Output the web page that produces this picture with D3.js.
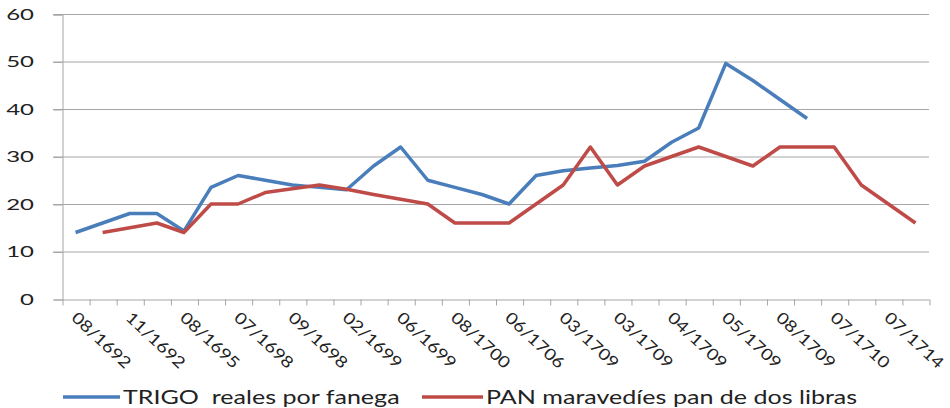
<!DOCTYPE html>
<html>
<head>
<meta charset="utf-8">
<script src="https://cdn.jsdelivr.net/npm/d3@7"></script>
<style>
  body { margin: 0; background: #fff; }
  text { font-family: Lato, "Open Sans", sans-serif; fill: #222; white-space: pre; }
</style>
</head>
<body>
<div id="chart"></div>
<script>
// 32 categories on the x axis, only every second one is labelled
const nCategories = 32;
const tickLabels = ["08/1692", "11/1692", "08/1695", "07/1698", "09/1698", "02/1699", "06/1699", "08/1700",
                    "06/1706", "03/1709", "03/1709", "04/1709", "05/1709", "08/1709", "07/1710", "07/1714"];

// TRIGO reales por fanega (null = no value)
const trigo = [14, 16, 18, 18, 14.3, 23.5, 26, 25, 24, 23.5, 23, 28, 32, 25, 23.5, 22,
               20, 26, 27, 27.6, 28.1, 29, 33, 36, 49.6, 46, 42, 38, null, null, null, null];
// PAN maravedíes pan de dos libras
const pan = [null, 14, 15, 16, 14, 20, 20, 22.4, 23.2, 24, 23.1, 22, 21, 20, 16, 16,
             16, 20, 24, 32, 24, 28, 30, 32, 30, 28, 32, 32, 32, 24, 20, 16];
const yTicks = [0, 10, 20, 30, 40, 50, 60];

const series = [
    {name: "TRIGO  reales por fanega", values: trigo, color: "#4a7ebb"},
    {name: "PAN maravedíes pan de dos libras", values: pan, color: "#be4b48"}
];

const width = 950, height = 408;
const margin = {top: 14, right: 21, bottom: 109, left: 62};

const svg = d3.select("#chart").append("svg")
    .attr("width", width)
    .attr("height", height);

const x = d3.scaleLinear().domain([0, nCategories]).range([margin.left, width - margin.right]);
const y = d3.scaleLinear().domain([0, 60]).range([height - margin.bottom, margin.top]);

// horizontal gridlines
svg.append("g")
    .selectAll("line")
    .data(yTicks.filter(d => d > 0))
    .enter().append("line")
    .attr("x1", margin.left - 9)
    .attr("x2", width - margin.right)
    .attr("y1", d => y(d) + 0.5)
    .attr("y2", d => y(d) + 0.5)
    .attr("stroke", "#a6a6a6");

// y axis
const yAxis = svg.append("g")
    .attr("transform", "translate(" + (margin.left + 0.5) + ",0.5)")
    .call(d3.axisLeft(y).tickValues(yTicks).tickSize(9).tickPadding(0).tickFormat(""));
yAxis.selectAll("path, line").attr("stroke", "#a6a6a6");

svg.append("g")
    .selectAll("text")
    .data(yTicks)
    .enter().append("text")
    .attr("transform", d => "translate(34," + (y(d) + 5.5) + ") scale(1.6,1)")
    .attr("text-anchor", "end")
    .attr("font-size", 15)
    .text(d => d);

// x axis with ticks between categories
const xAxis = svg.append("g")
    .attr("transform", "translate(0," + (y(0) + 0.5) + ")")
    .call(d3.axisBottom(x).tickValues(d3.range(nCategories + 1)).tickSize(6).tickSizeOuter(0).tickFormat(""));
xAxis.selectAll("path, line").attr("stroke", "#a6a6a6");
xAxis.selectAll(".tick line").attr("transform", "translate(0.5,0)");

svg.append("g")
    .selectAll("text")
    .data(tickLabels)
    .enter().append("text")
    .attr("transform", (d, i) => "translate(" + (x(i * 2 + 0.5) - 5) + "," + (y(0) + 20) + ") rotate(43) scale(1.18,1)")
    .attr("font-size", 16)
    .text(d => d);

// lines
const line = d3.line()
    .defined(d => d != null)
    .x((d, i) => x(i + 0.5))
    .y(d => y(d));

svg.append("g")
    .selectAll("path")
    .data(series)
    .enter().append("path")
    .attr("d", d => line(d.values))
    .attr("fill", "none")
    .attr("stroke", d => d.color)
    .attr("stroke-width", 3.5)
    .attr("stroke-linejoin", "round");

// legend
const legendPos = [{x: 63, w: 57}, {x: 422, w: 61}];
const legend = svg.append("g")
    .selectAll("g")
    .data(series)
    .enter().append("g")
    .attr("transform", (d, i) => "translate(" + legendPos[i].x + ",397)");

legend.append("line")
    .attr("x1", 0)
    .attr("x2", (d, i) => legendPos[i].w)
    .attr("stroke", d => d.color)
    .attr("stroke-width", 3.5);

legend.append("text")
    .attr("transform", (d, i) => "translate(" + (legendPos[i].w + 3) + ",7) scale(1.32,1)")
    .attr("font-size", 19)
    .text(d => d.name);
</script>
</body>
</html>
